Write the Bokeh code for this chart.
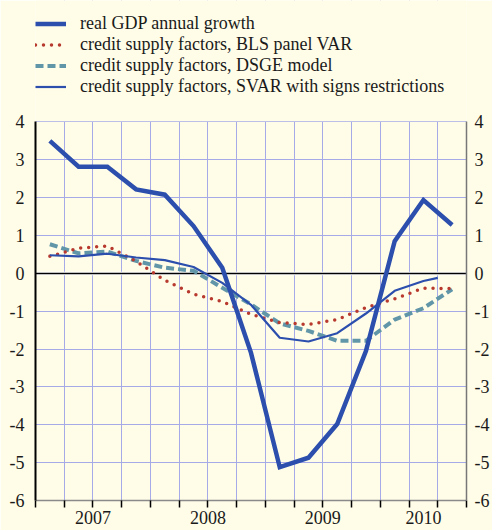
from bokeh.plotting import figure
from bokeh.models import (Range1d, LinearAxis, FixedTicker, Span, Legend,
                          LegendItem, BoxAnnotation)
from bokeh.embed import file_html
from bokeh.resources import INLINE

# ---- data ----
quarters = ["2007Q1", "2007Q2", "2007Q3", "2007Q4",
            "2008Q1", "2008Q2", "2008Q3", "2008Q4",
            "2009Q1", "2009Q2", "2009Q3", "2009Q4",
            "2010Q1", "2010Q2", "2010Q3"]
years = ["2007", "2008", "2009", "2010"]
quarters_per_year = [4, 4, 4, 3]
y_ticks = [-6, -5, -4, -3, -2, -1, 0, 1, 2, 3, 4]
y_tick_labels = ["-6", "-5", "-4", "-3", "-2", "-1", "0", "1", "2", "3", "4"]

gdp = [3.50, 2.82, 2.82, 2.22, 2.08, 1.25, 0.15, -2.10,
       -5.12, -4.87, -3.98, -2.05, 0.85, 1.94, 1.28]
bls = [0.45, 0.67, 0.72, 0.32, -0.18, -0.55, -0.74, -1.08,
       -1.30, -1.35, -1.22, -0.90, -0.67, -0.39, -0.40]
dsge = [0.77, 0.53, 0.58, 0.33, 0.15, 0.07, -0.38, -0.82,
        -1.32, -1.52, -1.78, -1.78, -1.22, -0.92, -0.42]
svar_pos = [0.5, 1.5, 2.5, 3.5, 4.5, 5.5, 6.5, 7.5,
            8.5, 9.5, 10.5, 11.5, 12.5, 13.5, 14.0]
svar = [0.48, 0.45, 0.52, 0.42, 0.35, 0.17, -0.25, -0.83,
        -1.70, -1.80, -1.58, -1.06, -0.46, -0.20, -0.12]

labels = ["real GDP annual growth",
          "credit supply factors, BLS panel VAR",
          "credit supply factors, DSGE model",
          "credit supply factors, SVAR with signs restrictions"]

# ---- derived positions ----
x = [i + 0.5 for i in range(len(quarters))]
boundaries = list(range(len(quarters) + 1))
year_mid = []
start = 0
for n in quarters_per_year:
    year_mid.append(start + n / 2)
    start += n

Y_MIN, Y_MAX = y_ticks[0], y_ticks[-1]
Y_TOP = 7.21  # extra room above the data area for the legend

CREAM = "#FFFDE8"
GRID = "#A6ABE8"
BLUE = "#2C4FAD"
RED = "#B8392E"
TEAL = "#6196A9"
FONT = "Liberation Serif, Times New Roman, serif"
TXT = "#1a1a1a"

p = figure(width=492, height=530,
           x_range=Range1d(0, len(quarters)), y_range=Range1d(Y_MIN, Y_TOP),
           output_backend="svg", toolbar_location=None,
           min_border_left=35, min_border_right=23,
           min_border_top=0, min_border_bottom=30,
           background_fill_color=CREAM, border_fill_color=CREAM,
           outline_line_color=None)

# grids
p.xgrid.ticker = FixedTicker(ticks=boundaries)
p.ygrid.ticker = FixedTicker(ticks=y_ticks)
for g in (p.xgrid, p.ygrid):
    g.grid_line_color = GRID
    g.grid_line_width = 1

# zero line
p.add_layout(Span(location=0, dimension="width", line_color="white",
                  line_width=3.5, level="underlay"))
p.add_layout(Span(location=0, dimension="width", line_color="black",
                  line_width=1.5, level="underlay"))
# blank area above the data area (legend zone)
p.add_layout(BoxAnnotation(bottom=Y_MAX + 0.02, fill_color=CREAM, fill_alpha=1,
                           line_color=None, level="underlay"))

ylabel_map = {t: s for t, s in zip(y_ticks, y_tick_labels)}

# left axis
ya = p.yaxis[0]
ya.ticker = FixedTicker(ticks=y_ticks)
ya.bounds = (Y_MIN, Y_MAX)
ya.major_label_overrides = ylabel_map
ya.axis_line_color = "black"
ya.axis_line_width = 2
ya.major_tick_line_color = None
ya.minor_tick_line_color = None
ya.major_tick_out = 0
ya.major_tick_in = 0
ya.major_label_standoff = 11
ya.major_label_text_font = FONT
ya.major_label_text_font_size = "18px"
ya.major_label_text_color = TXT

# right axis
ra = LinearAxis(ticker=FixedTicker(ticks=y_ticks))
ra.bounds = (Y_MIN, Y_MAX)
ra.major_label_overrides = ylabel_map
ra.axis_line_color = "#777777"
ra.axis_line_width = 1.5
ra.major_tick_line_color = None
ra.minor_tick_line_color = None
ra.major_tick_out = 0
ra.major_tick_in = 0
ra.major_label_standoff = 8
ra.major_label_text_font = FONT
ra.major_label_text_font_size = "18px"
ra.major_label_text_color = TXT
p.add_layout(ra, "right")

# bottom axis
xa = p.xaxis[0]
xa.ticker = FixedTicker(ticks=year_mid, minor_ticks=boundaries)
xa.major_label_overrides = {m: y for m, y in zip(year_mid, years)}
xa.axis_line_color = "#8a8a8a"
xa.axis_line_width = 1.5
xa.major_tick_line_color = None
xa.major_tick_out = 7
xa.major_tick_in = 0
xa.minor_tick_line_color = "black"
xa.minor_tick_line_width = 1.5
xa.minor_tick_out = 7
xa.minor_tick_in = 0
xa.major_label_standoff = 3
xa.major_label_text_font = FONT
xa.major_label_text_font_size = "18px"
xa.major_label_text_color = TXT

# series
r_dsge = p.line(x, dsge, line_color=TEAL, line_width=4, line_dash="8 4")
r_bls = p.line(x, bls, line_color=RED, line_width=3.5, line_dash="0 8",
               line_cap="round")
r_svar = p.line(svar_pos, svar, line_color=BLUE, line_width=2.2)
r_gdp = p.line(x, gdp, line_color=BLUE, line_width=4.5, line_join="miter")

legend = Legend(items=[LegendItem(label=labels[0], renderers=[r_gdp]),
                       LegendItem(label=labels[1], renderers=[r_bls]),
                       LegendItem(label=labels[2], renderers=[r_dsge]),
                       LegendItem(label=labels[3], renderers=[r_svar])],
                location=(0, 403), orientation="vertical",
                glyph_width=31, glyph_height=21, label_height=21,
                label_standoff=14, spacing=0, padding=0, margin=0,
                label_text_font=FONT, label_text_font_size="18px",
                label_text_color=TXT,
                background_fill_alpha=0, border_line_color=None)
p.add_layout(legend)

open("out.html", "w").write(file_html(p, INLINE))
